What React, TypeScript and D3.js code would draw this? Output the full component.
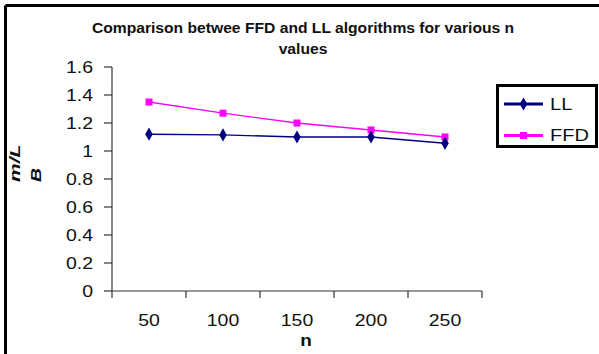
import React from "react";
import * as d3 from "d3";

const categories = ["50", "100", "150", "200", "250"];
const llValues = [1.12, 1.115, 1.1, 1.1, 1.055];
const ffdValues = [1.35, 1.27, 1.2, 1.15, 1.1];
const yTicks = [0, 0.2, 0.4, 0.6, 0.8, 1, 1.2, 1.4, 1.6];
const seriesNames = ["LL", "FFD"];
const titleLines = ["Comparison betwee FFD and LL algorithms for various n", "values"];

const W = 599;
const H = 354;
const FONT = "'Liberation Sans', Arial, sans-serif";
const SX = 1.18;

export default function App() {
  const x = d3.scaleBand<string>().domain(categories).range([112, 482]);
  const y = d3.scaleLinear().domain([0, 1.6]).range([291, 67]);
  const cx = (c: string) => (x(c) as number) + x.bandwidth() / 2;
  const line = d3
    .line<number>()
    .x((_, i) => cx(categories[i]))
    .y((d) => y(d));
  const diamond = d3.symbol().type(d3.symbolDiamond).size(50)();
  const bandEdges = [...categories.map((c) => x(c) as number), 482];

  const colors = ["#000080", "#FF00FF"];

  return (
    <svg
      width={W}
      height={H}
      style={{ position: "absolute", left: 0, top: 0, background: "#fff" }}
      fontFamily={FONT}
    >
      <rect x={0} y={0} width={W} height={H} fill="#fff" />
      {/* outer frame (top and left visible) */}
      <line x1={5.5} y1={5.5} x2={W} y2={5.5} stroke="#000" strokeWidth={3} />
      <line x1={5.5} y1={5.5} x2={5.5} y2={H} stroke="#000" strokeWidth={3} />

      {/* title */}
      {titleLines.map((t, i) => (
        <text
          key={i}
          transform={`translate(303,${33 + i * 20.5}) scale(1.08,1)`}
          textAnchor="middle"
          fontWeight="bold"
          fontSize={14.5}
          fill="#111"
        >
          {t}
        </text>
      ))}

      {/* y axis */}
      <line x1={112} y1={y(1.6)} x2={112} y2={y(0)} stroke="#333" strokeWidth={1.2} />
      {yTicks.map((t) => (
        <g key={t}>
          <line x1={104} x2={112} y1={y(t)} y2={y(t)} stroke="#333" strokeWidth={1.2} />
          <text
            transform={`translate(93,${y(t)}) scale(${SX},1)`}
            dy="0.35em"
            textAnchor="end"
            fontSize={16.5}
            fill="#111"
          >
            {d3.format("")(t)}
          </text>
        </g>
      ))}

      {/* x axis */}
      <line x1={112} y1={y(0)} x2={482} y2={y(0)} stroke="#333" strokeWidth={1.2} />
      {bandEdges.map((e, i) => (
        <line key={i} x1={e} x2={e} y1={y(0)} y2={y(0) + 7} stroke="#333" strokeWidth={1.2} />
      ))}
      {categories.map((c) => (
        <text
          key={c}
          transform={`translate(${cx(c)},326) scale(${SX},1)`}
          textAnchor="middle"
          fontSize={16.5}
          fill="#111"
        >
          {c}
        </text>
      ))}
      <text
        transform={`translate(306,346) scale(${SX},1)`}
        textAnchor="middle"
        fontWeight="bold"
        fontSize={16}
        fill="#111"
      >
        n
      </text>

      {/* y label */}
      <text
        transform="translate(20,182) rotate(-90) scale(1.4,1)"
        fontWeight="bold"
        fontStyle="italic"
        fontSize={15}
        fill="#111"
      >
        m/L
      </text>
      <text
        transform="translate(41,182) rotate(-90) scale(1.3,1)"
        fontWeight="bold"
        fontStyle="italic"
        fontSize={15}
        fill="#111"
      >
        B
      </text>

      {/* series */}
      <path d={line(ffdValues) || ""} fill="none" stroke={colors[1]} strokeWidth={1.3} />
      <path d={line(llValues) || ""} fill="none" stroke={colors[0]} strokeWidth={1.4} />
      {ffdValues.map((v, i) => (
        <rect
          key={i}
          x={cx(categories[i]) - 3.5}
          y={y(v) - 3.5}
          width={7}
          height={7}
          fill={colors[1]}
        />
      ))}
      {llValues.map((v, i) => (
        <path
          key={i}
          d={diamond || ""}
          transform={`translate(${cx(categories[i])},${y(v)})`}
          fill={colors[0]}
        />
      ))}

      {/* legend */}
      <rect x={497.5} y={85.5} width={99} height={61} fill="#fff" stroke="#000" strokeWidth={3} />
      {seriesNames.map((s, i) => {
        const ly = 104 + i * 31.5;
        return (
          <g key={s}>
            <line x1={504} x2={543} y1={ly} y2={ly} stroke={colors[i]} strokeWidth={3} />
            {i === 0 ? (
              <path d={diamond || ""} transform={`translate(523.5,${ly})`} fill={colors[0]} />
            ) : (
              <rect x={520} y={ly - 3.5} width={7} height={7} fill={colors[1]} />
            )}
            <text
              transform={`translate(550,${ly}) scale(${SX},1)`}
              dy="0.35em"
              fontSize={17}
              fill="#111"
            >
              {s}
            </text>
          </g>
        );
      })}
    </svg>
  );
}
